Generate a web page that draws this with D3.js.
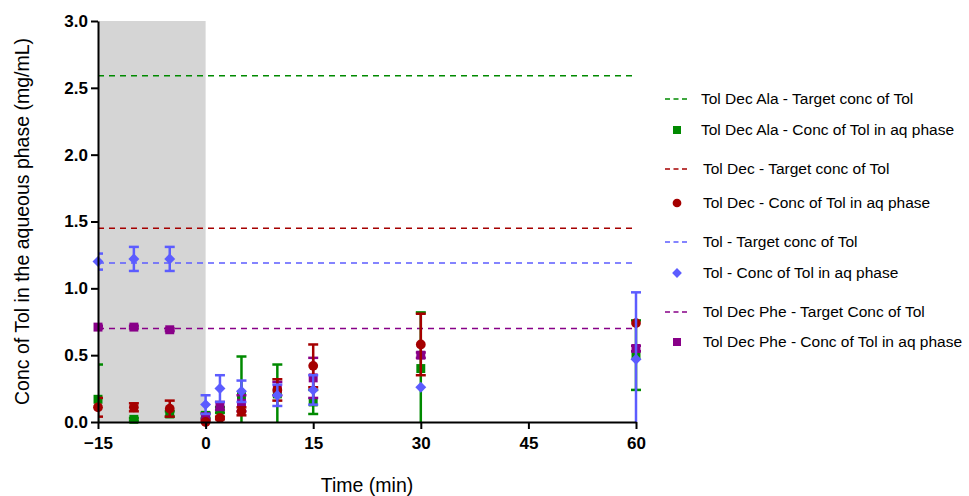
<!DOCTYPE html>
<html>
<head>
<meta charset="utf-8">
<script src="https://cdn.jsdelivr.net/npm/d3@7"></script>
<style>
  body { margin: 0; background: #fff; }
  svg { display: block; font-family: Arial, 'Liberation Sans', sans-serif; }
</style>
</head>
<body>
<svg id="chart" width="969" height="496"></svg>
<script>
// time points (min)
const times = [-15, -10, -5, 0, 2, 5, 10, 15, 30, 60]

// Tol Dec Ala
const alaMean = [0.17, 0.02, 0.06, 0.05, 0.09, 0.20, 0.21, 0.15, 0.40, 0.50]
const alaErr = [0.26, 0.01, 0.02, 0.02, 0.02, 0.29, 0.22, 0.09, 0.42, 0.26]
// Tol Dec
const decMean = [0.11, 0.11, 0.10, 0.00, 0.03, 0.08, 0.24, 0.42, 0.58, 0.74]
const decErr = [0.07, 0.03, 0.06, 0.01, 0.01, 0.03, 0.08, 0.16, 0.23, 0.00]
// Tol
const tolMean = [1.20, 1.22, 1.22, 0.13, 0.25, 0.23, 0.20, 0.24, 0.26, 0.47]
const tolErr = [0.06, 0.09, 0.09, 0.07, 0.10, 0.08, 0.08, 0.11, 0.00, 0.50]
// Tol Dec Phe
const pheMean = [0.71, 0.71, 0.69, 0.04, 0.12, 0.14, 0.25, 0.33, 0.50, 0.55]
const pheErr = [0.01, 0.01, 0.01, 0.02, 0.03, 0.06, 0.05, 0.15, 0.02, 0.02]

// target concentrations
const targetNames = ['Tol Dec Ala - Target conc of Tol', 'Tol Dec - Target conc of Tol', 'Tol - Target conc of Tol', 'Tol Dec Phe - Target Conc of Tol']
const targetValues = [2.59, 1.45, 1.19, 0.70]
const concNames = ['Tol Dec Ala - Conc of Tol in aq phase', 'Tol Dec - Conc of Tol in aq phase', 'Tol - Conc of Tol in aq phase', 'Tol Dec Phe - Conc of Tol in aq phase']

const xTicks = [-15, 0, 15, 30, 45, 60]
const yTicks = [0, 0.5, 1, 1.5, 2, 2.5, 3]
const shadeRange = [-15, 0]

const colors = ['#008a00', '#a50000', '#5c5cff', '#880088']
// diamond = square turned 45deg
const symbols = [d3.symbolSquare, d3.symbolCircle, d3.symbolSquare, d3.symbolSquare]
const symRot = [0, 0, 45, 0]
const symSizes = [80, 75, 60, 80]

const margin = { top: 21, right: 333, bottom: 74, left: 98 }
const width = 969 - margin.left - margin.right
const height = 496 - margin.top - margin.bottom

const svg = d3.select('#chart')

const x = d3.scaleLinear().domain([-15, 60]).range([margin.left, margin.left + width])
const y = d3.scaleLinear().domain([0, 3]).range([margin.top + height, margin.top])

svg.append('defs').append('clipPath').attr('id', 'plotclip')
	.append('rect')
	.attr('x', margin.left).attr('y', margin.top)
	.attr('width', width + 10).attr('height', height)

// gray pre-mixing region
svg.append('rect')
	.attr('x', x(shadeRange[0]))
	.attr('y', y(3))
	.attr('width', x(shadeRange[1]) - x(shadeRange[0]))
	.attr('height', y(0) - y(3))
	.attr('fill', '#d5d5d5')

// dashed target lines
svg.append('g')
	.selectAll('line')
	.data(targetValues)
	.join('line')
	.attr('x1', x(-15)).attr('x2', x(60))
	.attr('y1', d => y(d)).attr('y2', d => y(d))
	.attr('stroke', (d, i) => colors[i])
	.attr('stroke-width', 1.6)
	.attr('stroke-dasharray', '6,5')

const series = [
	{ mean: alaMean, err: alaErr, c: 0 },
	{ mean: pheMean, err: pheErr, c: 3 },
	{ mean: decMean, err: decErr, c: 1 },
	{ mean: tolMean, err: tolErr, c: 2 },
]

series.forEach(s => {
	const pts = times.map((t, i) => ({ t, m: s.mean[i], e: s.err[i] }))
	const g = svg.append('g').attr('clip-path', 'url(#plotclip)')
	const col = colors[s.c]
	const eb = g.append('g').attr('stroke', col).attr('stroke-width', 2.5)
	const withErr = pts.filter(d => d.e > 0)
	eb.selectAll('line.stem').data(withErr).join('line')
		.attr('x1', d => x(d.t)).attr('x2', d => x(d.t))
		.attr('y1', d => y(d.m - d.e)).attr('y2', d => y(d.m + d.e))
	eb.selectAll('line.capt').data(withErr).join('line')
		.attr('x1', d => x(d.t) - 5).attr('x2', d => x(d.t) + 5)
		.attr('y1', d => y(d.m + d.e)).attr('y2', d => y(d.m + d.e))
	eb.selectAll('line.capb').data(withErr).join('line')
		.attr('x1', d => x(d.t) - 5).attr('x2', d => x(d.t) + 5)
		.attr('y1', d => y(d.m - d.e)).attr('y2', d => y(d.m - d.e))
	svg.append('g').selectAll('path').data(pts).join('path')
		.attr('transform', d => `translate(${x(d.t)},${y(d.m)}) rotate(${symRot[s.c]})`)
		.attr('d', d3.symbol().type(symbols[s.c]).size(symSizes[s.c]))
		.attr('fill', col)
})

// axes
const xAxis = svg.append('g')
	.attr('transform', `translate(0,${y(0)})`)
	.call(d3.axisBottom(x).tickValues(xTicks).tickSize(7).tickSizeOuter(0).tickFormat(d3.format('d')))
const yAxis = svg.append('g')
	.attr('transform', `translate(${x(-15)},0)`)
	.call(d3.axisLeft(y).tickValues(yTicks).tickSize(7).tickSizeOuter(0).tickFormat(d3.format('.1f')))

;[xAxis, yAxis].forEach(a => {
	a.select('.domain').attr('stroke', '#000').attr('stroke-width', 2)
	a.selectAll('.tick line').attr('stroke', '#000').attr('stroke-width', 2)
	a.selectAll('.tick text')
		.attr('fill', '#000')
		.style('font-family', 'Arial, "Liberation Sans", sans-serif')
		.style('font-size', '17px')
		.style('font-weight', 'bold')
})
xAxis.selectAll('.tick text').attr('dy', '1.0em')
yAxis.selectAll('.tick text').attr('x', -10)

svg.append('text')
	.attr('x', (x(-15) + x(60)) / 2)
	.attr('y', 492)
	.attr('text-anchor', 'middle')
	.style('font-size', '19.5px')
	.text('Time (min)')

svg.append('text')
	.attr('transform', `translate(29,${(y(0) + y(3)) / 2}) rotate(-90)`)
	.attr('text-anchor', 'middle')
	.style('font-size', '19.5px')
	.text('Conc of Tol in the aqueous phase (mg/mL)')

// legend
const legendRows = [99, 130, 169, 203, 242, 273, 312, 342]
const legend = svg.append('g')
for (let i = 0; i < 4; i++) {
	const ty = legendRows[i * 2]
	const cy = legendRows[i * 2 + 1]
	legend.append('line')
		.attr('x1', 665).attr('x2', 687)
		.attr('y1', ty).attr('y2', ty)
		.attr('stroke', colors[i]).attr('stroke-width', 1.6)
		.attr('stroke-dasharray', '5,3.5')
	legend.append('text')
		.attr('x', 701 + (i > 0 ? 2 : 0)).attr('y', ty)
		.attr('dy', '0.35em')
		.style('font-size', '15.5px')
		.text(targetNames[i])
	legend.append('path')
		.attr('transform', `translate(677,${cy}) rotate(${symRot[i]})`)
		.attr('d', d3.symbol().type(symbols[i]).size(symSizes[i] * 0.8))
		.attr('fill', colors[i])
	legend.append('text')
		.attr('x', 701 + (i > 0 ? 2 : 0)).attr('y', cy)
		.attr('dy', '0.35em')
		.style('font-size', '15.5px')
		.text(concNames[i])
}
</script>
</body>
</html>
